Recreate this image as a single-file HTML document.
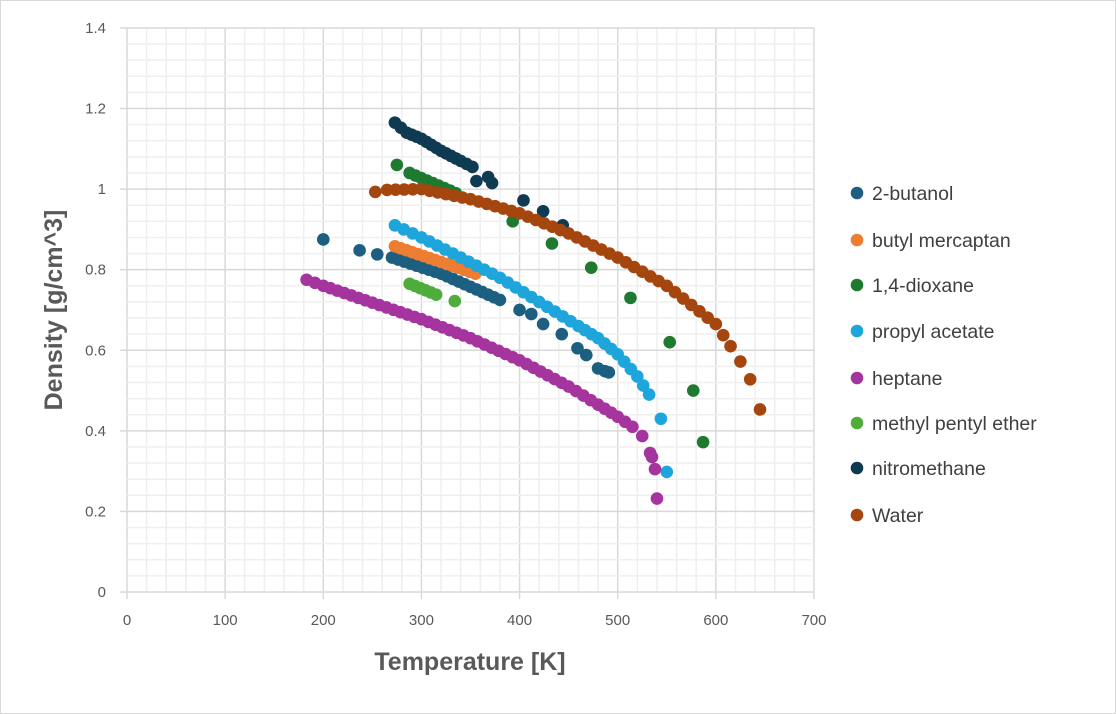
<!DOCTYPE html>
<html><head><meta charset="utf-8"><style>
body{margin:0;background:#fff}
svg{display:block;font-family:"Liberation Sans",sans-serif}
</style></head><body>
<svg id="s" width="1116" height="714" xmlns="http://www.w3.org/2000/svg">
<rect x="0.5" y="0.5" width="1115" height="713" fill="#fff" stroke="#d9d9d9"/>
<g id="grid"></g>
<g id="pts"></g>
<g fill="#595959" font-size="15" id="ticks"></g>
<text x="470" y="670" text-anchor="middle" font-size="25" font-weight="bold" fill="#595959">Temperature [K]</text>
<text transform="translate(62,310) rotate(-90)" text-anchor="middle" font-size="25" font-weight="bold" fill="#595959">Density  [g/cm^3]</text>
<g id="leg" font-size="19.5" fill="#404040"></g>
</svg>
<script>
const NS="http://www.w3.org/2000/svg";
function el(p,t,a,txt){const e=document.createElementNS(NS,t);for(const k in a)e.setAttribute(k,a[k]);if(txt!=null)e.textContent=txt;document.getElementById(p).appendChild(e);}
const px=x=>127+x*0.9814, py=y=>592-y*402.9;
for(let x=0;x<=700;x+=20){el('grid','line',{x1:px(x),x2:px(x),y1:py(0),y2:py(1.4),stroke:x%100?'#efefef':'#d9d9d9','stroke-width':1.5});}
for(let i=0;i<=35;i++){const y=i*0.04;el('grid','line',{x1:px(0),x2:px(700),y1:py(y),y2:py(y),stroke:i%5?'#efefef':'#d9d9d9','stroke-width':1.5});}
for(let i=0;i<=7;i++){el('grid','line',{x1:120,x2:127,y1:py(i*0.2),y2:py(i*0.2),stroke:'#d9d9d9','stroke-width':1.5});
 el('ticks','text',{x:106,y:py(i*0.2)+5,'text-anchor':'end'},i==0?'0':i==5?'1':(i*0.2).toFixed(1));}
for(let x=0;x<=700;x+=100){el('grid','line',{x1:px(x),x2:px(x),y1:592,y2:599,stroke:'#d9d9d9','stroke-width':1.5});
 el('ticks','text',{x:px(x),y:625,'text-anchor':'middle'},x);}
function interp(pts,step){const out=[];for(let i=0;i<pts.length-1;i++){const[a,b]=pts[i],[c,d]=pts[i+1];const n=Math.max(1,Math.round((c-a)/step));for(let j=0;j<n;j++){const t=j/n;out.push([a+(c-a)*t,b+(d-b)*t]);}}out.push(pts[pts.length-1]);return out;}
const S=[
["2-butanol","#1d5f80",[[200,.875],[237,.848],[255,.838]].concat(interp([[270,.83],[320,.79],[380,.725]],6)).concat([[400,.70],[412,.69],[424,.665],[443,.64],[459,.605],[468,.588],[480,.555],[487,.548],[491,.545]])],
["butyl mercaptan","#ed7d31",interp([[273,.858],[355,.79]],6)],
["1,4-dioxane","#1e7a2e",[[275,1.06]].concat(interp([[288,1.04],[335,.99]],6)).concat([[393,.92],[433,.865],[473,.805],[513,.73],[553,.62],[577,.5],[587,.372]])],
["propyl acetate","#1ea6dc",interp([[273,.91],[300,.88],[340,.83],[380,.78],[420,.72],[460,.66],[480,.63],[500,.59],[520,.535],[532,.49]],8).concat([[544,.43],[550,.298]])],
["heptane","#a5349e",interp([[183,.775],[200,.76],[250,.718],[300,.677],[350,.63],[400,.575],[450,.51],[480,.465],[500,.435],[515,.41]],7).concat([[525,.387],[533,.345],[535,.335],[538,.305],[540,.232]])],
["methyl pentyl ether","#4ead3b",interp([[288,.765],[315,.738]],6).concat([[334,.722]])],
["nitromethane","#0e3a52",interp([[273,1.165],[285,1.14],[300,1.125],[320,1.095],[340,1.07],[352,1.055]],5).concat([[356,1.02],[368,1.03],[372,1.015],[404,.972],[424,.945],[444,.91]])],
["Water","#a5460f",[[253,.993]].concat(interp([[265,.998],[300,1.0],[350,.975],[400,.94],[450,.89],[500,.83],[550,.76],[600,.665],[615,.61],[625,.572]],8)).concat([[635,.528],[645,.453]])]
];
const ly=[193,240,285,331,378,423,468,515];
S.forEach((s,i)=>{s[2].forEach(p=>el('pts','circle',{cx:px(p[0]),cy:py(p[1]),r:6.3,fill:s[1]}));
 el('leg','circle',{cx:857,cy:ly[i],r:6.3,fill:s[1]});el('leg','text',{x:872,y:ly[i]+7},s[0]);});
</script>
</body></html>
